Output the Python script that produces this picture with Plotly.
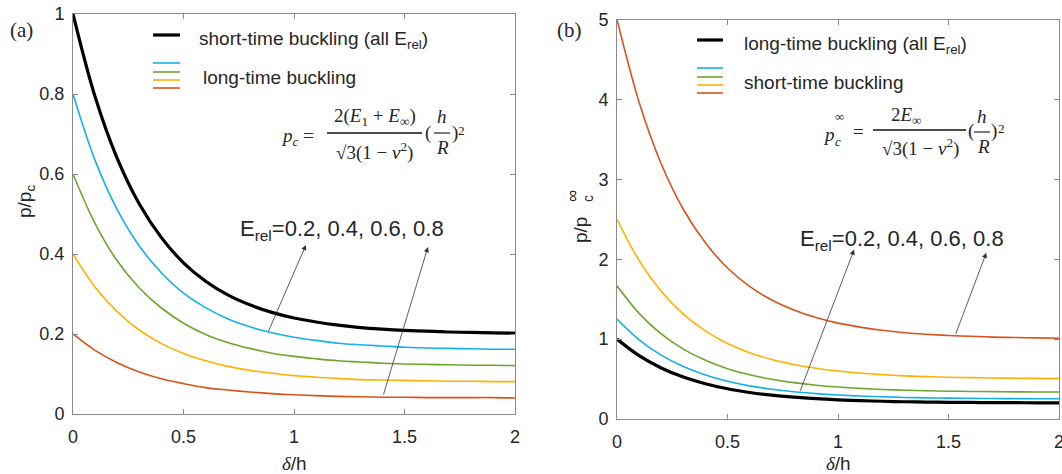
import plotly.graph_objects as go

W, H = 1062, 474

# ---------------- data ----------------
x_vals = [0.0, 0.1, 0.2, 0.3, 0.4, 0.5, 0.6, 0.7, 0.8, 0.9, 1.0,
          1.1, 1.2, 1.3, 1.4, 1.5, 1.6, 1.7, 1.8, 1.9, 2.0]

# panel (a): p / p_c
a_short = [1.000, 0.793, 0.639, 0.525, 0.441, 0.378, 0.332, 0.298, 0.273, 0.254, 0.240,
           0.230, 0.222, 0.216, 0.212, 0.209, 0.207, 0.205, 0.204, 0.203, 0.202]
a_long_08 = [0.800, 0.634, 0.511, 0.420, 0.353, 0.302, 0.266, 0.238, 0.218, 0.203, 0.192,
             0.184, 0.177, 0.173, 0.170, 0.167, 0.165, 0.164, 0.163, 0.162, 0.162]
a_long_06 = [0.600, 0.476, 0.383, 0.315, 0.265, 0.227, 0.199, 0.179, 0.164, 0.152, 0.144,
             0.138, 0.133, 0.130, 0.127, 0.125, 0.124, 0.123, 0.122, 0.122, 0.121]
a_long_04 = [0.400, 0.317, 0.256, 0.210, 0.176, 0.151, 0.133, 0.119, 0.109, 0.102, 0.096,
             0.092, 0.089, 0.086, 0.085, 0.084, 0.083, 0.082, 0.082, 0.081, 0.081]
a_long_02 = [0.200, 0.159, 0.128, 0.105, 0.088, 0.076, 0.066, 0.060, 0.055, 0.051, 0.048,
             0.046, 0.044, 0.043, 0.042, 0.042, 0.041, 0.041, 0.041, 0.041, 0.040]

# panel (b): p / p_c^inf
b_long = [1.000, 0.793, 0.639, 0.525, 0.441, 0.378, 0.332, 0.298, 0.273, 0.254, 0.240,
          0.230, 0.222, 0.216, 0.212, 0.209, 0.207, 0.205, 0.204, 0.203, 0.202]
b_short_08 = [1.250, 0.991, 0.799, 0.656, 0.551, 0.473, 0.415, 0.373, 0.341, 0.318, 0.300,
              0.287, 0.278, 0.270, 0.265, 0.261, 0.259, 0.256, 0.255, 0.254, 0.253]
b_short_06 = [1.667, 1.322, 1.065, 0.875, 0.735, 0.630, 0.553, 0.497, 0.455, 0.423, 0.400,
              0.383, 0.370, 0.360, 0.353, 0.348, 0.345, 0.342, 0.340, 0.338, 0.337]
b_short_04 = [2.500, 1.983, 1.598, 1.313, 1.103, 0.945, 0.830, 0.745, 0.683, 0.635, 0.600,
              0.575, 0.555, 0.540, 0.530, 0.523, 0.518, 0.513, 0.510, 0.508, 0.505]
b_short_02 = [5.000, 3.965, 3.195, 2.625, 2.205, 1.890, 1.660, 1.490, 1.365, 1.270, 1.200,
              1.150, 1.110, 1.080, 1.060, 1.045, 1.035, 1.025, 1.020, 1.015, 1.010]

x_ticks = [0, 0.5, 1, 1.5, 2]
x_tick_text = ["0", "0.5", "1", "1.5", "2"]
a_y_ticks = [0, 0.2, 0.4, 0.6, 0.8, 1]
a_y_tick_text = ["0", "0.2", "0.4", "0.6", "0.8", "1"]
b_y_ticks = [0, 1, 2, 3, 4, 5]
b_y_tick_text = ["0", "1", "2", "3", "4", "5"]

# ---------------- style ----------------
BLACK = "#000000"
BLUE = "#12b0ec"
GREEN = "#6ca62e"
YELLOW = "#ffb000"
RED = "#d9531a"
AXIS = "#8a8a8a"
TXT = "#262626"
SANS = "Liberation Sans, Arial, sans-serif"
SERIF = "Liberation Serif, Times New Roman, serif"


def PX(x):
    return x / W


def PY(y):
    return 1 - y / H


fig = go.Figure()

def add_line(x, y, color, width, xa, ya):
    fig.add_trace(go.Scatter(x=x, y=y, mode="lines", line=dict(color=color, width=width, shape="spline"),
                             xaxis=xa, yaxis=ya, showlegend=False, hoverinfo="skip"))

# panel a
add_line(x_vals, a_long_02, RED, 1.6, "x", "y")
add_line(x_vals, a_long_04, YELLOW, 1.6, "x", "y")
add_line(x_vals, a_long_06, GREEN, 1.6, "x", "y")
add_line(x_vals, a_long_08, BLUE, 1.6, "x", "y")
add_line(x_vals, a_short, BLACK, 3.2, "x", "y")
# panel b
add_line(x_vals, b_short_02, RED, 1.6, "x2", "y2")
add_line(x_vals, b_short_04, YELLOW, 1.6, "x2", "y2")
add_line(x_vals, b_short_06, GREEN, 1.6, "x2", "y2")
add_line(x_vals, b_short_08, BLUE, 1.6, "x2", "y2")
add_line(x_vals, b_long, BLACK, 3.2, "x2", "y2")

axis_common = dict(showline=True, linecolor=AXIS, linewidth=1, mirror="ticks", ticks="inside",
                   ticklen=5, tickcolor=AXIS, showgrid=False, zeroline=False, automargin=False,
                   ticklabeloverflow="allow",
                   tickfont=dict(family=SANS, size=18, color=TXT), fixedrange=True)

fig.update_layout(
    width=W, height=H,
    margin=dict(l=0, r=0, t=0, b=0, pad=0, autoexpand=False),
    paper_bgcolor="white", plot_bgcolor="white",
    xaxis=dict(domain=[PX(73), PX(515)], range=[0, 2], tickvals=x_ticks, ticktext=x_tick_text,
               anchor="y", ticklabelstandoff=6, **axis_common),
    yaxis=dict(domain=[PY(414), PY(14)], range=[0, 1], tickvals=a_y_ticks, ticktext=a_y_tick_text,
               anchor="x", ticklabelstandoff=4, **axis_common),
    xaxis2=dict(domain=[PX(617), PX(1059)], range=[0, 2], tickvals=x_ticks, ticktext=x_tick_text,
                anchor="y2", ticklabelstandoff=6, **axis_common),
    yaxis2=dict(domain=[PY(419), PY(19.5)], range=[0, 5], tickvals=b_y_ticks, ticktext=b_y_tick_text,
                anchor="x2", ticklabelstandoff=4, **axis_common),
)

shapes = []
ann = []

def paper_text(text, x, y, size, family=SANS, xanchor="left", yanchor="middle", angle=0, color=TXT):
    ann.append(dict(text=text, x=PX(x), y=PY(y), xref="paper", yref="paper", showarrow=False,
                    xanchor=xanchor, yanchor=yanchor, textangle=angle,
                    font=dict(family=family, size=size, color=color)))

def paper_line(x0, y0, x1, y1, color, width):
    shapes.append(dict(type="line", xref="paper", yref="paper", x0=PX(x0), y0=PY(y0), x1=PX(x1), y1=PY(y1),
                       line=dict(color=color, width=width)))

# panel labels
paper_text("(a)", 8, 30, 21, SERIF)
paper_text("(b)", 555, 30, 21, SERIF)

# axis titles
paper_text("p/p<sub>c</sub>", 26, 202, 19, SANS, xanchor="center", angle=-90)
paper_text("p/p", 580, 230, 19, SANS, xanchor="center", angle=-90)
paper_text("c", 588, 199, 14, SANS, xanchor="center", angle=-90)
paper_text("∞", 572, 196, 17, SANS, xanchor="center", angle=-90)
paper_text("<span style='font-family:Liberation Serif'><i>δ</i></span>/h", 294, 463, 19, SANS, xanchor="center")
paper_text("<span style='font-family:Liberation Serif'><i>δ</i></span>/h", 838, 463, 19, SANS, xanchor="center")

# legends (a)
paper_line(153, 35, 180, 35, BLACK, 3.2)
paper_text("short-time buckling (all E<sub>rel</sub>)", 197, 40, 19)
for yy, c in zip([63, 72, 80, 88], [BLUE, GREEN, YELLOW, RED]):
    paper_line(153, yy, 180, yy, c, 1.6)
paper_text("long-time buckling", 201, 77, 19)

# legends (b)
paper_line(697, 40, 723, 40, BLACK, 3.2)
paper_text("long-time buckling (all E<sub>rel</sub>)", 742, 45, 19)
for yy, c in zip([68, 77, 85, 93], [BLUE, GREEN, YELLOW, RED]):
    paper_line(697, yy, 723, yy, c, 1.6)
paper_text("short-time buckling", 742, 82, 19)

# formula (a)
FS = 19
paper_text("<i>p</i><sub><i>c</i></sub> =", 279, 137, FS, SERIF)
paper_text("2(<i>E</i><sub>1</sub> + <i>E</i><sub>∞</sub>)", 375, 117, FS, SERIF, xanchor="center")
paper_line(327, 133, 422, 133, "#111", 1.3)
paper_text("√3(1 − <i>ν</i><sup>2</sup>)", 374, 151, FS, SERIF, xanchor="center")
paper_text("(", 423, 133, FS, SERIF)
paper_text("<i>h</i>", 442, 116, FS, SERIF, xanchor="center")
paper_line(434, 133, 450, 133, "#111", 1.1)
paper_text("<i>R</i>", 442, 147, FS, SERIF, xanchor="center")
paper_text(")", 450, 133, FS, SERIF)
paper_text("<sup>2</sup>", 456, 130, FS, SERIF)

# formula (b)
paper_text("<i>p</i>", 821, 135, FS, SERIF)
paper_text("∞", 833, 117, 13, SERIF)
paper_text("<i>c</i>", 833, 141, 13, SERIF)
paper_text("=", 851, 132, FS, SERIF)
paper_text("2<i>E</i><sub>∞</sub>", 906, 116, FS, SERIF, xanchor="center")
paper_line(873, 130, 966, 130, "#111", 1.3)
paper_text("√3(1 − <i>ν</i><sup>2</sup>)", 920, 148, FS, SERIF, xanchor="center")
paper_text("(", 966, 131, FS, SERIF)
paper_text("<i>h</i>", 982, 116, FS, SERIF, xanchor="center")
paper_line(974, 132, 990, 132, "#111", 1.1)
paper_text("<i>R</i>", 983, 146, FS, SERIF, xanchor="center")
paper_text(")", 989, 131, FS, SERIF)
paper_text("<sup>2</sup>", 996, 128, FS, SERIF)

# E_rel labels
ann.append(dict(text="E<sub>rel</sub>=0.2, 0.4, 0.6, 0.8", x=0.745, y=0.46, xref="x", yref="y",
                showarrow=False, xanchor="left", yanchor="middle",
                font=dict(family=SANS, size=22, color=TXT)))
ann.append(dict(text="E<sub>rel</sub>=0.2, 0.4, 0.6, 0.8", x=0.82, y=2.24, xref="x2", yref="y2",
                showarrow=False, xanchor="left", yanchor="middle",
                font=dict(family=SANS, size=22, color=TXT)))

# arrows
def arrow(xh, yh, xt, yt, xr, yr):
    ann.append(dict(text="", x=xh, y=yh, ax=xt, ay=yt, xref=xr, yref=yr, axref=xr, ayref=yr,
                    showarrow=True, arrowhead=2, arrowsize=1.3, arrowwidth=0.8, arrowcolor="#333"))

arrow(1.054, 0.4225, 0.882, 0.204, "x", "y")
arrow(1.606, 0.4175, 1.403, 0.045, "x", "y")
arrow(1.073, 2.12, 0.826, 0.33, "x2", "y2")
arrow(1.671, 2.08, 1.53, 1.045, "x2", "y2")

fig.update_layout(shapes=shapes, annotations=ann)
fig.write_html("out.html")
